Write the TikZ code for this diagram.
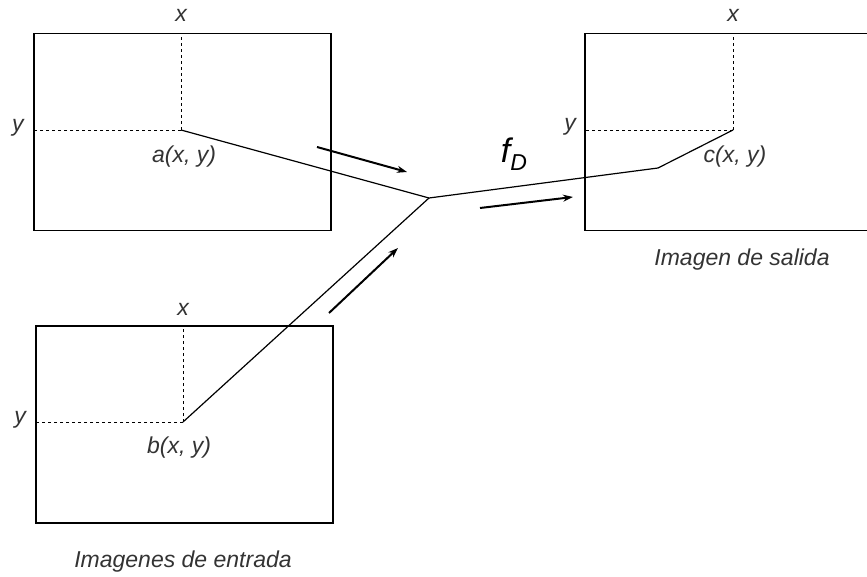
\documentclass[tikz,border=0pt]{standalone}
\usepackage{fontspec}
\setmainfont{Liberation Sans}
\usetikzlibrary{arrows.meta}
\begin{document}
\begin{tikzpicture}[x=1pt,y=-1pt,
  imgbox/.style={draw,line width=1.5pt,minimum width=297pt,minimum height=197pt,
    inner sep=0pt,anchor=north west},
  guide/.style={dash pattern=on 3pt off 3pt,line width=0.8pt},
  ray/.style={line width=1.2pt},
  flow/.style={line width=2pt,-{Stealth[length=10pt,width=7pt]}},
  lbl/.style={font=\fontsize{23}{27}\selectfont\itshape,text=black!80,inner sep=0pt}]
  \useasboundingbox (0,0) rectangle (867,577);
  \clip (0,0) rectangle (867,577);
  % input images
  \node[imgbox] (inA) at (33,33) {};
  \node[imgbox] (inB) at (35,325) {};
  % output image, cut by the right margin
  \node[imgbox] (out) at (584,33) {};
  \coordinate (a) at (181,130);
  \coordinate (b) at (183,422);
  \coordinate (c) at (733,130);
  \coordinate (join) at (429,198);
  \coordinate (bend) at (658,168);
  % pixel guides
  \foreach \p/\bx in {a/inA,b/inB,c/out}{
    \draw[guide] (\p) -- (\p |- \bx.north);
    \draw[guide] (\p) -- (\p -| \bx.west);}
  \node[lbl] (xA) at (181,15) {x};
  \node[lbl] (yA) at (18,128) {y};
  \node[lbl] (xB) at (183,309) {x};
  \node[lbl] (yB) at (20,420) {y};
  \node[lbl] (xC) at (733,15) {x};
  \node[lbl] (yC) at (570,127) {y};
  \node[lbl] (la) at (184,157) {a(x, y)};
  \node[lbl] (lb) at (179,448) {b(x, y)};
  \node[lbl] (lc) at (735,157) {c(x, y)};
  \node[lbl] (capIn) at (183,562) {Imagenes de entrada};
  \node[lbl] (capOut) at (742,260) {Imagen de salida};
  % the combining function
  \draw[ray] (a) -- (join) -- (bend) -- (c);
  \draw[ray] (b) -- (join);
  \node[lbl,font=\fontsize{34}{38}\selectfont\itshape,text=black] (fD) at (514,154)
    {f\raisebox{-0.45ex}{\fontsize{23}{27}\selectfont D}};
  \coordinate (s1) at (317,147);
  \coordinate (e1) at (407,172);
  \coordinate (s2) at (480,208);
  \coordinate (e2) at (573,197);
  \coordinate (s3) at (329,313);
  \coordinate (e3) at (398,248);
  \draw[flow] (s1) -- (e1);
  \draw[flow] (s2) -- (e2);
  \draw[flow] (s3) -- (e3);
\end{tikzpicture}
\end{document}
